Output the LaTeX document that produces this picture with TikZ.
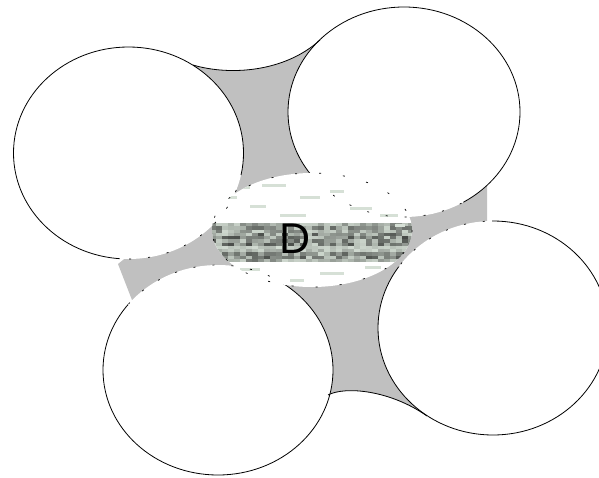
\documentclass[tikz,border=0pt]{standalone}
\usepackage{fontspec}
\newfontfamily\labelfont{Liberation Sans}
\begin{document}
\begin{tikzpicture}[x=1pt,y=-1pt,
  outline/.style={draw=black,line width=0.8pt},
  tick/.style={draw=black,line width=0.7pt,dash pattern=on 2pt off 17pt}]
\definecolor{pore}{RGB}{192,192,192}
\definecolor{streak}{RGB}{214,224,214}
\useasboundingbox (0,0) rectangle (599,477);
\clip (0,0) rectangle (599,477);
% named centres
\coordinate (cA) at (128.5,153);
\coordinate (cB) at (404,112);
\coordinate (cC) at (218,370);
\coordinate (cD) at (493,328);
\coordinate (cE) at (312,230);
\def\grainA{(cA) ellipse [x radius=115, y radius=106]}
\def\grainB{(cB) ellipse [x radius=116, y radius=105]}
\def\grainC{(cC) ellipse [x radius=115, y radius=105]}
\def\grainD{(cD) ellipse [x radius=115, y radius=107]}
\def\zoneP{(118,250) -- (236,175) -- (300,175) -- (330,192) -- (462,192) -- (465,215) -- (492,215) -- (492,235) -- (410,265) -- (290,282) -- (250,285) -- (150,300) -- (128,305) -- cycle}
% pore space
\fill[pore] (193,65) .. controls (230,76) and (285,72) .. (320,40) -- (360,70) -- (450,150) -- (470,175) -- (487,185) -- (487,221) -- (470,250) -- (450,300) -- (440,380) -- (427,416) .. controls (390,390) and (345,386) .. (328,395) -- (300,370) -- (250,300) -- (180,300) -- (132,300) -- (118,264) -- (160,230) -- (170,150) -- cycle;
% grains
\fill[white] \grainA; \fill[white] \grainB; \fill[white] \grainC; \fill[white] \grainD;
\begin{scope}[even odd rule]
  \clip (-10,-10) rectangle (610,490) \zoneP;
  \draw[outline] \grainA; \draw[outline] \grainB; \draw[outline] \grainC; \draw[outline] \grainD;
\end{scope}
% free pore edges
\coordinate (t1) at (193,65); \coordinate (t2) at (320,40);
\coordinate (b1) at (328,395); \coordinate (b2) at (427,416);
\draw[outline] (t1) .. controls (230,76) and (285,72) .. (t2);
\draw[outline] (b1) .. controls (345,386) and (390,390) .. (b2);
% central zone
\fill[white] (cE) ellipse [x radius=100, y radius=57];
\begin{scope}
  \clip (cE) ellipse [x radius=100, y radius=57];
  \pgfmathsetseed{7}
  \foreach \r/\b in {0/35,1/45,2/40,3/55,4/60,5/50,6/55,7/15,8/22,9/48,10/55,11/42} {
    \pgfmathsetmacro\yy{223+3.25*\r}
    \foreach \c in {0,...,34} {
      \pgfmathsetmacro\xx{210+6*\c}
      \pgfmathsetmacro\g{int(\b*(0.1+1.1*rnd))}
      \fill[black!\g!streak] (\xx,\yy) rectangle ++(6.1,3.35);
    }
  }
  \foreach \x/\y/\w in {232/186/18,262/184/24,300/196/20,330/190/14,250/205/16,350/207/22,280/214/26,380/214/18,240/268/20,320/272/24,365/266/16,290/279/14,225/196/12,395/224/10} {
    \fill[streak] (\x,\y) rectangle ++(\w,2.5);
  }
\end{scope}
\begin{scope}
  \clip \zoneP;
  \draw[tick] \grainA; \draw[tick] \grainB; \draw[tick] \grainC; \draw[tick] \grainD;
\end{scope}
\draw[tick,dash pattern=on 2pt off 22pt] (cE) ellipse [x radius=100, y radius=57];
\node[anchor=base,inner sep=0pt,font=\labelfont\fontsize{43}{43}\selectfont] (lab) at (295,253) {D};
\end{tikzpicture}
\end{document}
